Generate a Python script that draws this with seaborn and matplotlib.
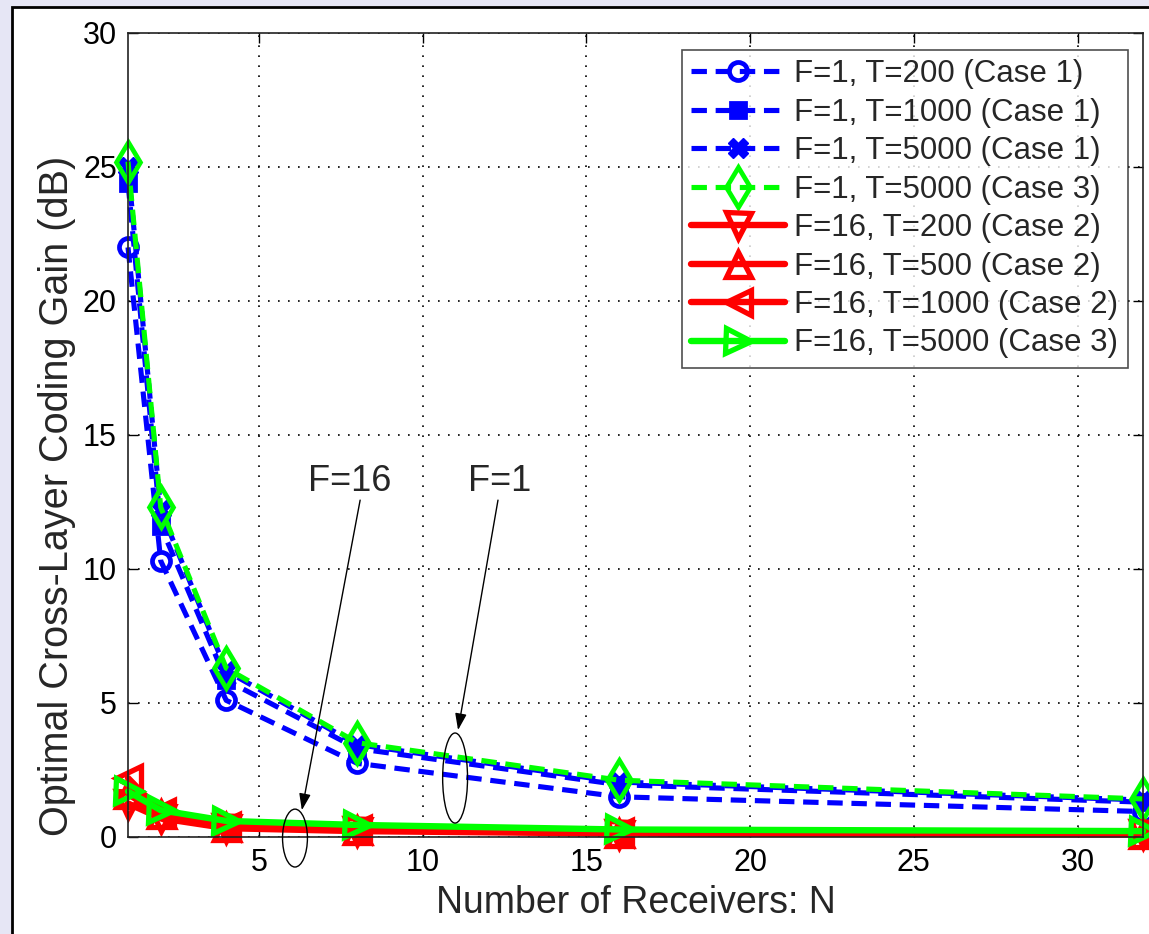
import numpy as np
import pandas as pd
import matplotlib
matplotlib.use("Agg")
import matplotlib.pyplot as plt
from matplotlib.patches import Ellipse, Rectangle
import seaborn as sns

# ---- data ----
N = [1, 2, 4, 8, 16, 32]
f1_t200_c1 = [22.0, 10.3, 5.1, 2.75, 1.5, 0.95]
f1_t1000_c1 = [24.4, 11.6, 5.85, 3.3, 1.95, 1.3]
f1_t5000_c1 = [25.0, 12.2, 6.2, 3.45, 2.05, 1.38]
f1_t5000_c3 = [25.2, 12.3, 6.3, 3.52, 2.12, 1.42]
f16_t200_c2 = [1.25, 0.7, 0.33, 0.22, 0.13, 0.1]
f16_t500_c2 = [1.6, 0.85, 0.38, 0.26, 0.15, 0.11]
f16_t1000_c2 = [2.2, 0.95, 0.42, 0.3, 0.18, 0.12]
f16_t5000_c3 = [1.7, 1.0, 0.6, 0.45, 0.28, 0.22]

labels = ["F=1, T=200 (Case 1)", "F=1, T=1000 (Case 1)", "F=1, T=5000 (Case 1)",
          "F=1, T=5000 (Case 3)", "F=16, T=200 (Case 2)", "F=16, T=500 (Case 2)",
          "F=16, T=1000 (Case 2)", "F=16, T=5000 (Case 3)"]
series = [f1_t200_c1, f1_t1000_c1, f1_t5000_c1, f1_t5000_c3,
          f16_t200_c2, f16_t500_c2, f16_t1000_c2, f16_t5000_c3]

BLUE = "#0000ff"
GREEN = "#00ff00"
RED = "#ff0000"
styles = [
    dict(color=BLUE, marker="o", mfc="none", ms=13, mew=3.4, dashed=True),
    dict(color=BLUE, marker="s", mfc=BLUE, ms=12, mew=2, dashed=True),
    dict(color=BLUE, marker="X", mfc=BLUE, ms=15, mew=1, dashed=True),
    dict(color=GREEN, marker="d", mfc="none", ms=20, mew=3.4, dashed=True),
    dict(color=RED, marker="v", mfc="none", ms=18, mew=3.8, dashed=False),
    dict(color=RED, marker="^", mfc="none", ms=18, mew=3.8, dashed=False),
    dict(color=RED, marker="<", mfc="none", ms=18, mew=3.8, dashed=False),
    dict(color=GREEN, marker=">", mfc="none", ms=18, mew=3.8, dashed=False),
]
DASH = (3.0, 1.7)

sns.set_style("white")
plt.rcParams["font.family"] = ["Liberation Sans", "DejaVu Sans"]

fig = plt.figure(figsize=(11.49, 9.34), dpi=100)
fig.patch.set_facecolor("#e6e6f5")
fig.patches.append(Rectangle((12 / 1149, -0.1), 1.2, 1.1 - 7 / 934, transform=fig.transFigure,
                             facecolor="white", edgecolor="black", linewidth=2, zorder=-5))

ax = fig.add_axes([128 / 1149, 1 - 837 / 934, (1143 - 128) / 1149, (837 - 33) / 934])
ax.set_zorder(2)
ax.set_facecolor("white")

for vals, lab, st in zip(series, labels, styles):
    df = pd.DataFrame({"N": N, "gain": vals})
    lw = 3.7 if st["dashed"] else 4.6
    kw = dict(color=st["color"], marker=st["marker"], markersize=st["ms"],
              markeredgewidth=st["mew"], markerfacecolor=st["mfc"],
              markeredgecolor=st["color"], linewidth=lw, label=lab)
    sns.lineplot(data=df, x="N", y="gain", ax=ax, **kw)
    ln = ax.get_lines()[-1]
    if st["dashed"]:
        ln.set_dashes(DASH)
    ln.set_clip_on(False)

ax.set_xlim(1, 32)
ax.set_ylim(0, 30)
ax.set_xticks([5, 10, 15, 20, 25, 30])
ax.set_yticks([0, 5, 10, 15, 20, 25, 30])
ax.tick_params(direction="in", length=7, width=1, labelsize=22, colors="black",
               top=True, right=True, bottom=True, left=True, pad=8)
ax.grid(True, linestyle=(0, (1, 5)), color="black", linewidth=1.2)
for sp in ax.spines.values():
    sp.set_color("#222222")
    sp.set_linewidth(1.2)

ax.set_xlabel("Number of Receivers: N", fontsize=27)
ax.xaxis.set_label_coords(0.5, -(903 - 837) / 804, transform=ax.transAxes)
ax.xaxis.label.set_va("center")
ax.set_ylabel("Optimal Cross-Layer Coding Gain (dB)", fontsize=28.5)
ax.yaxis.set_label_coords((57 - 128) / 1015, (837 - 496) / 804, transform=ax.transAxes)
ax.yaxis.label.set_va("center")

leg = ax.legend(loc="upper right", bbox_to_anchor=(1128 / 1149, 1 - 50 / 934),
                bbox_transform=fig.transFigure, fontsize=22.5, frameon=True,
                handlelength=3.0, labelspacing=0.27, handletextpad=0.3,
                borderpad=0.3, borderaxespad=0, fancybox=False)
leg.get_frame().set_edgecolor("#222222")
leg.get_frame().set_linewidth(1.2)
for h in leg.get_lines():
    if h.get_linestyle() not in ("-", "solid"):
        h.set_dashes(DASH)

# annotations
ax.text(7.78, 13.25, "F=16", fontsize=26, ha="center", va="center")
ax.text(12.36, 13.25, "F=1", fontsize=26, ha="center", va="center")
arrow = dict(arrowstyle="-|>,head_length=1.0,head_width=0.35", color="black", lw=1,
             shrinkA=0, shrinkB=0)
ax.annotate("", xy=(6.31, 1.0), xytext=(8.09, 12.57), arrowprops=arrow)
ax.annotate("", xy=(11.08, 3.99), xytext=(12.30, 12.57), arrowprops=arrow)
ax.add_patch(Ellipse((6.10, -0.04), 0.76, 2.16, fill=False, edgecolor="black",
                     linewidth=1, clip_on=False, zorder=5))
ax.add_patch(Ellipse((10.99, 2.20), 0.76, 3.36, fill=False, edgecolor="black",
                     linewidth=1, clip_on=False, zorder=5))

fig.savefig("out.png", dpi=100, facecolor=fig.get_facecolor())
